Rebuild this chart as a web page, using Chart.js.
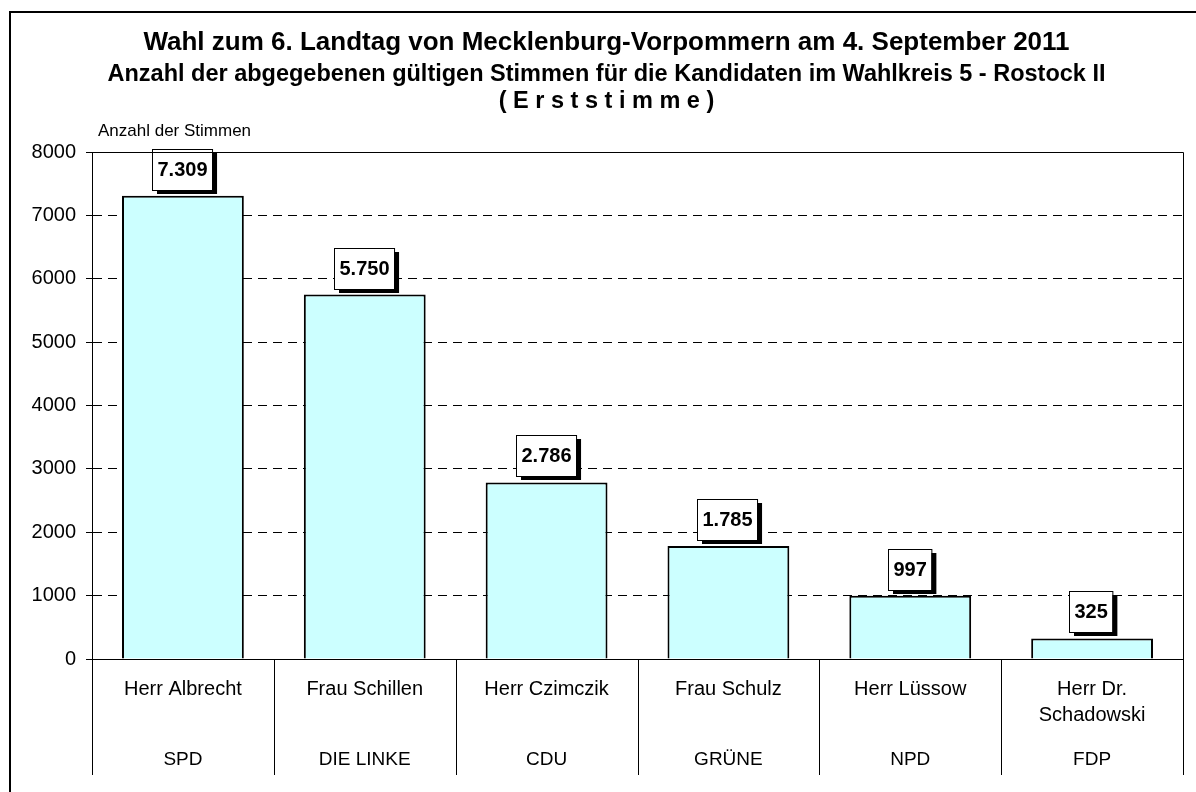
<!DOCTYPE html>
<html>
<head>
<meta charset="utf-8">
<script src="https://cdn.jsdelivr.net/npm/chart.js@4"></script>
<style>
body { margin: 0; background: #fff; }
</style>
</head>
<body>
<canvas id="canvas" width="1196" height="792"></canvas>
<script>
const kandidaten = [['Herr Albrecht'], ['Frau Schillen'], ['Herr Czimczik'], ['Frau Schulz'], ['Herr Lüssow'], ['Herr Dr.', 'Schadowski']];
const parteien = ['SPD', 'DIE LINKE', 'CDU', 'GRÜNE', 'NPD', 'FDP'];
const stimmen = [7309, 5750, 2786, 1785, 997, 325];

const titelZeile = 'Wahl zum 6. Landtag von Mecklenburg-Vorpommern am 4. September 2011';
const unterZeilen = ['Anzahl der abgegebenen gültigen Stimmen für die Kandidaten im Wahlkreis 5 - Rostock II', '( E r s t s t i m m e )'];
const achsenTitel = 'Anzahl der Stimmen';

Chart.defaults.font.family = "'Liberation Sans', Arial, sans-serif";
Chart.defaults.color = '#000';

// Rahmen, Trennlinien und Achsentitel
const rahmen = {
  id: 'rahmen',
  beforeDraw(chart) {
    const ctx = chart.ctx;
    ctx.save();
    ctx.fillStyle = '#fff';
    ctx.fillRect(0, 0, chart.width, chart.height);
    ctx.strokeStyle = '#000';
    ctx.lineWidth = 2;
    ctx.strokeRect(10, 12, chart.width, chart.height);
    ctx.restore();
  },
  afterDraw(chart) {
    const ctx = chart.ctx;
    const { left, right, top, bottom } = chart.chartArea;
    ctx.save();
    ctx.strokeStyle = '#000';
    ctx.lineWidth = 1;
    ctx.beginPath();
    ctx.moveTo(Math.round(left), Math.round(top) + 0.5);
    ctx.lineTo(Math.round(right) + 0.5, Math.round(top) + 0.5);
    ctx.lineTo(Math.round(right) + 0.5, Math.round(bottom));
    ctx.stroke();

    const breite = (right - left) / kandidaten.length;
    ctx.beginPath();
    for (let i = 0; i <= kandidaten.length; i++) {
      const x = Math.round(left + i * breite) + 0.5;
      ctx.moveTo(x, bottom);
      ctx.lineTo(x, bottom + 116);
    }
    ctx.stroke();

    ctx.fillStyle = '#000';
    ctx.font = "17px 'Liberation Sans', Arial, sans-serif";
    ctx.textAlign = 'left';
    ctx.textBaseline = 'middle';
    ctx.fillText(achsenTitel, 98, 131);
    ctx.restore();
  }
};

// Werte in Kästchen mit Schatten über den Balken
const werteKasten = {
  id: 'werteKasten',
  afterDatasetsDraw(chart) {
    const ctx = chart.ctx;
    const meta = chart.getDatasetMeta(0);
    ctx.save();
    ctx.font = "bold 20px 'Liberation Sans', Arial, sans-serif";
    ctx.textAlign = 'center';
    ctx.textBaseline = 'middle';
    meta.data.forEach((bar, i) => {
      const text = stimmen[i].toLocaleString('de-DE');
      const w = ctx.measureText(text).width + 10;
      const h = 41;
      const x = Math.round(bar.x - w / 2 - 1);
      const y = Math.round(bar.y - 6 - h);
      ctx.fillStyle = '#000';
      ctx.fillRect(x + 5, y + 4, w, h);
      ctx.fillStyle = '#fff';
      ctx.fillRect(x, y, w, h);
      ctx.strokeStyle = '#000';
      ctx.lineWidth = 1;
      ctx.strokeRect(x + 0.5, y + 0.5, w, h);
      ctx.fillStyle = '#000';
      ctx.fillText(text, x + w / 2 + 0.5, y + h / 2 + 1);
    });
    ctx.restore();
  }
};

const ctx = document.getElementById('canvas').getContext('2d');

new Chart(ctx, {
  type: 'bar',
  data: {
    labels: kandidaten,
    datasets: [{
      data: stimmen,
      backgroundColor: '#CCFFFF',
      borderColor: '#000',
      borderWidth: 2,
      categoryPercentage: 1,
      barPercentage: 0.67,
      xAxisID: 'x',
      yAxisID: 'y',
    }],
  },
  options: {
    responsive: false,
    animation: false,
    layout: { padding: { left: 30, right: 13, top: 0, bottom: 17 } },
    plugins: {
      legend: { display: false },
      tooltip: { enabled: false },
      title: {
        display: true,
        text: titelZeile,
        color: '#000',
        font: { size: 26, weight: 'bold', lineHeight: '31px' },
        padding: { top: 27, bottom: 3 },
      },
      subtitle: {
        display: true,
        text: unterZeilen,
        color: '#000',
        font: { size: 23.5, weight: 'bold', lineHeight: '27px' },
        padding: { top: 0, bottom: 37 },
      },
    },
    scales: {
      y: {
        min: 0,
        max: 8000,
        ticks: { stepSize: 1000, padding: 10, font: { size: 20 }, color: '#000', callback: (v) => String(v) },
        grid: { color: '#000', lineWidth: 1, tickLength: 6, tickColor: '#000' },
        border: { color: '#000', width: 1, dash: [9, 6] },
        afterFit(scale) { scale.width = 62; },
      },
      x: {
        position: 'bottom',
        weight: 1,
        offset: true,
        grid: { display: false, drawTicks: false },
        border: { color: '#000', width: 1 },
        ticks: { padding: 17, maxRotation: 0, autoSkip: false, font: { size: 20, lineHeight: '26px' }, color: '#000' },
        afterFit(scale) { scale.height = 70; },
      },
      partei: {
        type: 'category',
        position: 'bottom',
        weight: 2,
        labels: parteien,
        offset: true,
        grid: { display: false, drawTicks: false },
        border: { display: false },
        ticks: { padding: 18, maxRotation: 0, autoSkip: false, font: { size: 19, lineHeight: '26px' }, color: '#000' },
        afterFit(scale) { scale.height = 46; },
      },
    },
  },
  plugins: [rahmen, werteKasten],
});
</script>
</body>
</html>
